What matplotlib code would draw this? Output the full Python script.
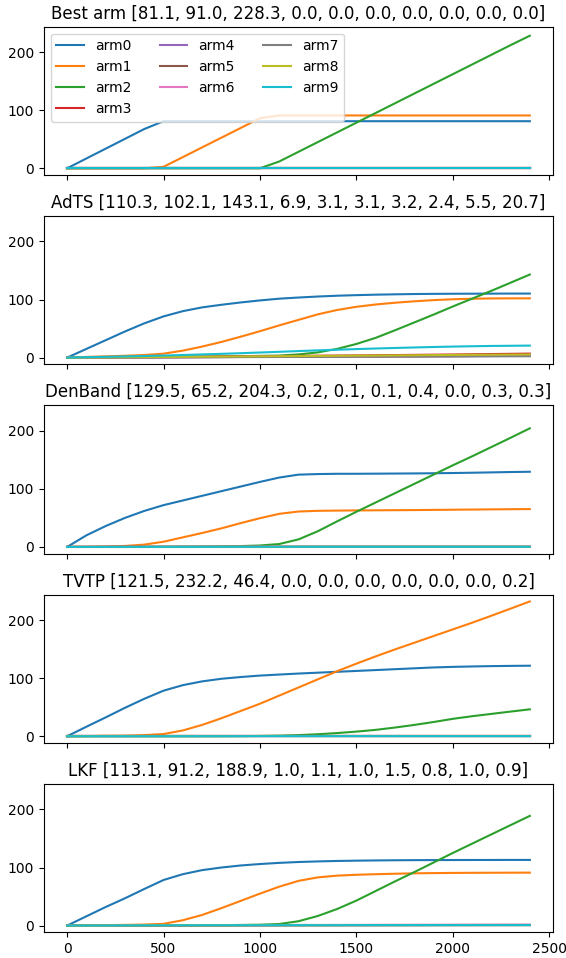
import numpy as np
import matplotlib
matplotlib.use('Agg')
import matplotlib.pyplot as plt

# time grid for the main curves (every 100 steps), coarse grid for the tiny arms
T = list(range(0, 2401, 100))
T_SMALL = [0, 400, 800, 1200, 1600, 2000, 2400]

arms = ['arm0', 'arm1', 'arm2', 'arm3', 'arm4', 'arm5', 'arm6', 'arm7', 'arm8', 'arm9']
methods = ['Best arm', 'AdTS', 'DenBand', 'TVTP', 'LKF']

final = {
'Best arm': [81.1, 91.0, 228.3, 0.0, 0.0, 0.0, 0.0, 0.0, 0.0, 0.0],
'AdTS': [110.3, 102.1, 143.1, 6.9, 3.1, 3.1, 3.2, 2.4, 5.5, 20.7],
'DenBand': [129.5, 65.2, 204.3, 0.2, 0.1, 0.1, 0.4, 0.0, 0.3, 0.3],
'TVTP': [121.5, 232.2, 46.4, 0.0, 0.0, 0.0, 0.0, 0.0, 0.0, 0.2],
'LKF': [113.1, 91.2, 188.9, 1.0, 1.1, 1.0, 1.5, 0.8, 1.0, 0.9],
}

# ---- Best arm ----
best_arm0 = [0, 16.9, 33.8, 50.7, 67.6, 81.1, 81.1, 81.1, 81.1, 81.1, 81.1, 81.1, 81.1,
             81.1, 81.1, 81.1, 81.1, 81.1, 81.1, 81.1, 81.1, 81.1, 81.1, 81.1, 81.1]
best_arm1 = [0, 0, 0, 0, 0, 2.5, 19.2, 36.0, 52.7, 69.4, 86.2, 91.0, 91.0,
             91.0, 91.0, 91.0, 91.0, 91.0, 91.0, 91.0, 91.0, 91.0, 91.0, 91.0, 91.0]
best_arm2 = [0, 0, 0, 0, 0, 0, 0, 0, 0, 0, 0, 11.7, 28.4,
             45.1, 61.8, 78.5, 95.2, 111.9, 128.6, 145.3, 162.0, 178.7, 195.4, 212.1, 228.3]
best_zero = [0, 0, 0, 0, 0, 0, 0]

# ---- AdTS ----
adts_arm0 = [0, 15, 30, 45, 59, 71, 80, 86.5, 91, 95, 98.5, 101.5, 103.5,
             105.2, 106.6, 107.6, 108.4, 109, 109.5, 109.8, 110, 110.1, 110.2, 110.3, 110.3]
adts_arm1 = [0, 1.2, 2.2, 3.2, 4.5, 6.8, 12, 19, 27, 36, 45.5, 55.5, 65,
             74.5, 82, 87.5, 91.5, 94.5, 97, 99, 100.5, 101.4, 101.9, 102.1, 102.1]
adts_arm2 = [0, 0.2, 0.4, 0.6, 0.8, 1.0, 1.3, 1.6, 2.0, 2.5, 3.0, 3.5, 5.5,
             9, 15, 23.5, 34, 47, 60.5, 74, 88, 101.5, 115, 129, 143.1]
adts_arm9 = [0, 0.7, 1.4, 2.1, 2.8, 3.6, 4.5, 5.5, 6.5, 7.6, 8.8, 10, 11.3,
             12.5, 13.6, 14.7, 15.7, 16.6, 17.5, 18.3, 19, 19.6, 20.1, 20.4, 20.7]
adts_arm3 = [0, 1.0, 2.0, 3.0, 4.1, 5.4, 6.9]
adts_arm4 = [0, 0.5, 1.0, 1.5, 2.0, 2.6, 3.1]
adts_arm5 = [0, 0.5, 1.0, 1.6, 2.1, 2.6, 3.1]
adts_arm6 = [0, 0.5, 1.1, 1.6, 2.2, 2.7, 3.2]
adts_arm7 = [0, 0.4, 0.8, 1.2, 1.6, 2.0, 2.4]
adts_arm8 = [0, 0.9, 1.8, 2.7, 3.6, 4.6, 5.5]

# ---- DenBand ----
den_arm0 = [0, 20, 36, 50, 62, 72, 80, 88, 96, 104, 112, 119.5, 124.5,
            125.5, 126, 126, 126.2, 126.4, 126.6, 126.9, 127.3, 127.8, 128.4, 129, 129.5]
den_arm1 = [0, 0.3, 0.8, 1.7, 4, 9, 16.5, 24, 32, 41, 49.5, 57, 61,
            62.2, 62.6, 62.9, 63.1, 63.3, 63.5, 63.8, 64.1, 64.4, 64.7, 65, 65.2]
den_arm2 = [0, 0, 0, 0.1, 0.2, 0.3, 0.5, 0.7, 1.0, 1.5, 2.5, 5, 13,
            27, 44, 60.5, 76.5, 92.5, 108.5, 124.5, 140.5, 156, 172, 188, 204.3]
den_arm3 = [0, 0.1, 0.1, 0.2, 0.2, 0.2, 0.2]
den_arm4 = [0, 0.05, 0.1, 0.1, 0.1, 0.1, 0.1]
den_arm5 = [0, 0.05, 0.1, 0.1, 0.1, 0.1, 0.1]
den_arm6 = [0, 0.2, 0.3, 0.4, 0.4, 0.4, 0.4]
den_arm7 = [0, 0, 0, 0, 0, 0, 0]
den_arm8 = [0, 0.1, 0.2, 0.3, 0.3, 0.3, 0.3]
den_arm9 = [0, 0.1, 0.2, 0.3, 0.3, 0.3, 0.3]

# ---- TVTP ----
tvtp_arm0 = [0, 16.4, 32.5, 49, 64.5, 78.5, 88, 94.5, 99, 102, 104.5, 106.3, 108,
             109.5, 111, 112.5, 114, 115.5, 117, 118.5, 119.5, 120.2, 120.8, 121.2, 121.5]
tvtp_arm1 = [0, 0.3, 0.8, 1.0, 2.0, 3.8, 10, 19.5, 31, 43.5, 56, 70, 84,
             98, 112, 125, 137.5, 149.5, 161, 172.5, 184, 195.5, 207.5, 219.8, 232.2]
tvtp_arm2 = [0, 0, 0, 0, 0, 0, 0, 0, 0.1, 0.2, 0.5, 1, 2,
             3.5, 5.5, 8, 11, 15, 19.5, 24.5, 30, 34.5, 38.5, 42.5, 46.4]
tvtp_zero = [0, 0, 0, 0, 0, 0, 0]
tvtp_arm9 = [0, 0.1, 0.15, 0.2, 0.2, 0.2, 0.2]

# ---- LKF ----
lkf_arm0 = [0, 16, 32, 47, 63, 78.5, 88.5, 95.5, 100, 103.5, 106, 108, 109.5,
            110.5, 111.3, 111.8, 112.2, 112.5, 112.7, 112.8, 112.9, 113, 113, 113.1, 113.1]
lkf_arm1 = [0, 0.4, 0.8, 1.2, 1.8, 3, 9.2, 18.3, 30, 42.5, 55, 67, 77,
            83, 86, 87.5, 88.5, 89.3, 90, 90.4, 90.7, 90.9, 91, 91.1, 91.2]
lkf_arm2 = [0, 0, 0, 0.1, 0.2, 0.3, 0.4, 0.6, 0.8, 1.1, 1.5, 2.7, 7.5,
            16.5, 28.5, 43, 59.5, 76, 92, 108.5, 125, 141, 157, 173, 188.9]
lkf_arm3 = [0, 0.4, 0.6, 0.75, 0.85, 0.95, 1.0]
lkf_arm4 = [0, 0.4, 0.7, 0.85, 0.95, 1.05, 1.1]
lkf_arm5 = [0, 0.4, 0.6, 0.75, 0.85, 0.95, 1.0]
lkf_arm6 = [0, 0.6, 0.9, 1.1, 1.3, 1.4, 1.5]
lkf_arm7 = [0, 0.3, 0.5, 0.6, 0.7, 0.75, 0.8]
lkf_arm8 = [0, 0.4, 0.6, 0.75, 0.85, 0.95, 1.0]
lkf_arm9 = [0, 0.35, 0.55, 0.7, 0.8, 0.85, 0.9]

curves = {
'Best arm': [best_arm0, best_arm1, best_arm2, best_zero, best_zero, best_zero,
             best_zero, best_zero, best_zero, best_zero],
'AdTS': [adts_arm0, adts_arm1, adts_arm2, adts_arm3, adts_arm4, adts_arm5,
         adts_arm6, adts_arm7, adts_arm8, adts_arm9],
'DenBand': [den_arm0, den_arm1, den_arm2, den_arm3, den_arm4, den_arm5,
            den_arm6, den_arm7, den_arm8, den_arm9],
'TVTP': [tvtp_arm0, tvtp_arm1, tvtp_arm2, tvtp_zero, tvtp_zero, tvtp_zero,
         tvtp_zero, tvtp_zero, tvtp_zero, tvtp_arm9],
'LKF': [lkf_arm0, lkf_arm1, lkf_arm2, lkf_arm3, lkf_arm4, lkf_arm5,
        lkf_arm6, lkf_arm7, lkf_arm8, lkf_arm9],
}

fig, axes = plt.subplots(5, 1, figsize=(5.66, 9.58), sharex=True, sharey=True)
fig.subplots_adjust(left=0.0777, right=0.977, top=0.9721, bottom=0.0268, hspace=0.2765)

for ax, m in zip(axes, methods):
    for i, vals in enumerate(curves[m]):
        x = T if len(vals) == len(T) else T_SMALL
        ax.plot(x, vals, label=arms[i])
    vals_txt = ', '.join('%.1f' % v for v in final[m])
    ax.set_title(m + ' [' + vals_txt + ']')

axes[0].legend(loc='upper left', ncol=3)

plt.savefig('out.png', dpi=100)
